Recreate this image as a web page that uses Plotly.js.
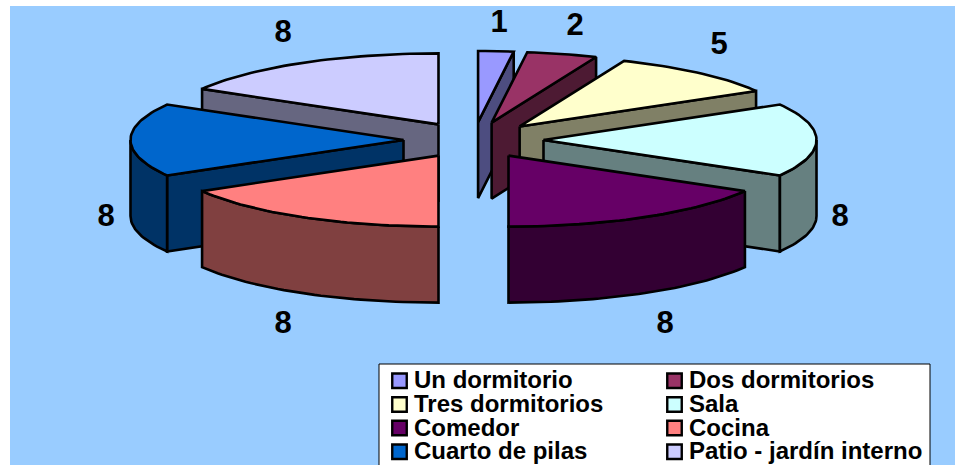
<!DOCTYPE html>
<html>
<head>
<meta charset="utf-8">
<script src="https://cdn.plot.ly/plotly-3.0.1.min.js"></script>
<style>html,body{margin:0;padding:0;background:#fff}#chart{width:955px;height:465px}</style>
</head>
<body>
<div id="chart"></div>
<script>
// Room and bedroom counts
const categories = ['Un dormitorio','Dos dormitorios','Tres dormitorios','Sala','Comedor','Cocina','Cuarto de pilas','Patio - jardín interno'];
const values = [1,2,5,8,8,8,8,8];
const topColors = ['#9999FF','#993366','#FFFFCC','#CCFFFF','#660066','#FF8080','#0066CC','#CCCCFF'];
const sideColors = ['#4D4D80','#4D1A33','#808066','#668080','#330033','#804040','#003366','#666680'];

// Axis units equal page pixels, so the projection below reads as plain geometry
const pie = {cx:473.5, cy:140, rx:273, ry:71, depth:76, pullX:70, pullY:18};
const labelX = [499,575,719,840,665,283,106,283];
const labelY = [24,27,46,218,325,325,218,34];
const legendCols = [399.5,674.5];
const legendRows = [380.8,404.5,428,451.7];

const rad = d => d*Math.PI/180;
const total = values.reduce((a,b)=>a+b,0);

function polar(theta, apex, drop){
  return [apex[0]+pie.rx*Math.sin(rad(theta)), apex[1]-pie.ry*Math.cos(rad(theta))+drop];
}
function arc(a,b,apex,drop){
  const pts=[], n=Math.max(2,Math.ceil((b-a)/1.5));
  for(let i=0;i<=n;i++) pts.push(polar(a+(b-a)*i/n,apex,drop));
  return pts;
}
function face(points,color){
  const closed=points.concat([points[0]]);
  return {type:'scatter',mode:'lines',x:closed.map(p=>p[0]),y:closed.map(p=>p[1]),
    fill:'toself',fillcolor:color,line:{color:'#000',width:2.6},hoverinfo:'skip',showlegend:false};
}

// Turn the counts into exploded wedges
let running=0;
const slices=values.map((v,i)=>{
  const start=running/total*360; running+=v; const end=running/total*360;
  const mid=(start+end)/2;
  const apex=[pie.cx+pie.pullX*Math.sin(rad(mid)), pie.cy-pie.pullY*Math.cos(rad(mid))];
  return {i,start,end,mid,apex};
});

// Far wedges are painted first so nearer ones cover them
const order=slices.slice().sort((a,b)=>Math.cos(rad(b.mid))-Math.cos(rad(a.mid)));
const traces=[];
order.forEach(s=>{
  const side=sideColors[s.i], d=pie.depth, ax=s.apex;
  const wall=t=>{const p=polar(t,ax,0);return [ax,p,[p[0],p[1]+d],[ax[0],ax[1]+d]];};
  if(s.start>180 && s.start<360) traces.push(face(wall(s.start),side));
  if(s.end>0 && s.end<180) traces.push(face(wall(s.end),side));
  const a=Math.max(s.start,90), b=Math.min(s.end,270);
  if(b>a) traces.push(face(arc(a,b,ax,0).concat(arc(a,b,ax,d).reverse()),side));
  traces.push(face([ax].concat(arc(s.start,s.end,ax,0)),topColors[s.i]));
});

const font='"Liberation Sans", Arial, sans-serif';

// Value labels around the pie
traces.push({type:'scatter',mode:'text',x:labelX,y:labelY,text:values.map(String),
  textposition:'middle center',textfont:{family:font,size:31,color:'#000',weight:700},
  hoverinfo:'skip',showlegend:false});

// Two-column key
const keyX=categories.map((c,i)=>legendCols[i%2]);
const keyY=categories.map((c,i)=>legendRows[Math.floor(i/2)]);
traces.push({type:'scatter',mode:'markers',x:keyX,y:keyY,
  marker:{symbol:'square',size:14.5,color:topColors,line:{color:'#000',width:2.4}},
  hoverinfo:'skip',showlegend:false});
traces.push({type:'scatter',mode:'text',x:keyX.map(x=>x+14.5),y:keyY.map(y=>y+1.5),text:categories,
  textposition:'middle right',textfont:{family:font,size:24,color:'#000',weight:700},
  hoverinfo:'skip',showlegend:false,cliponaxis:false});

const layout={
  width:955,height:465,margin:{l:10,r:0,t:6,b:0,pad:0},
  paper_bgcolor:'#fff',plot_bgcolor:'#99CCFF',showlegend:false,
  xaxis:{range:[10,955],visible:false,fixedrange:true},
  yaxis:{range:[465,6],visible:false,fixedrange:true},
  shapes:[{type:'rect',layer:'below',x0:379,x1:930,y0:364,y1:475,fillcolor:'#fff',line:{color:'#000',width:1}}]
};
Plotly.newPlot('chart',traces,layout,{displayModeBar:false,staticPlot:true});
</script>
</body>
</html>
